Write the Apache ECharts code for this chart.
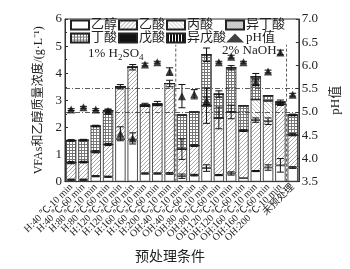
<!DOCTYPE html>
<html>
<head>
<meta charset="utf-8">
<script src="https://cdn.jsdelivr.net/npm/echarts@6/dist/echarts.min.js"></script>
<style>
  html, body { margin: 0; padding: 0; background: #fff; }
  #chart { width: 350px; height: 269px; }
</style>
</head>
<body>
<div id="chart"></div>
<script>
// 预处理条件
const categories = [
  'H:40 ℃-10 min', 'H:40 ℃-60 min', 'H:80 ℃-10 min', 'H:80 ℃-60 min',
  'H:120 ℃-10 min', 'H:120 ℃-60 min', 'H:160 ℃-10 min', 'H:160 ℃-60 min',
  'H:200 ℃-10 min', 'OH:40 ℃-10 min', 'OH:40 ℃-60 min', 'OH:80 ℃-10 min',
  'OH:80 ℃-60 min', 'OH:120 ℃-10 min', 'OH:120 ℃-60 min', 'OH:160 ℃-10 min',
  'OH:160 ℃-60 min', 'OH:200 ℃-10 min', '未预处理'
];

// 各组分浓度 (g/L), 堆叠
const ethanol     = [0.07, 0.07, 0.20, 0.18, 1.57, 1.55, 0.30, 0.30, 0.30, 0.20, 0.24, 0.50, 0.24, 0.30, 0.13, 0.39, 0.52, 0.60, 0.52];
const acetic      = [0.63, 0.65, 0.90, 1.19, 1.93, 2.67, 2.49, 2.53, 3.32, 1.00, 1.09, 2.30, 2.11, 2.27, 1.75, 1.88, 1.71, 2.26, 1.21];
const propionic   = [0, 0, 0, 0, 0, 0, 0, 0, 0, 0, 0, 0, 0, 0, 0, 0.76, 0.75, 0, 0];
const isobutyric  = [0, 0, 0, 0, 0, 0, 0, 0, 0, 0, 0, 0, 0, 0, 0, 0, 0, 0, 0];
const butyric     = [0.82, 0.81, 0.95, 1.25, 0, 0, 0, 0, 0, 1.26, 1.24, 1.88, 0.88, 1.63, 0.92, 0.84, 0.19, 0.08, 0.73];
const valeric     = [0, 0, 0, 0, 0, 0, 0.05, 0.05, 0, 0, 0, 0, 0, 0, 0, 0, 0, 0, 0];
const isovaleric  = [0, 0, 0, 0, 0, 0, 0, 0, 0, 0, 0, 0, 0, 0, 0, 0, 0, 0, 0];

// 误差 (总量顶部 / 乙醇+乙酸分界 / 乙醇)
const errTop = [0.03, 0.03, 0.03, 0.05, 0.08, 0.10, 0.05, 0.08, 0.12, 0, 0, 0.25, 0.12, 0.08, 0, 0.12, 0, 0.07, 0.03];
const errMid = [0.04, 0.03, 0.04, 0.04, 0, 0, 0, 0, 0, 0.38, 0.03, 0.65, 0.40, 0.25, 0.03, 0.08, 0.12, 0.05, 0.04];
const errEth = [0.02, 0.02, 0.02, 0.02, 0, 0, 0.02, 0.02, 0.03, 0.08, 0.03, 0.12, 0.02, 0.06, 0, 0.02, 0.10, 0.25, 0.03];

// pH值
const phValues = [5.05, 5.10, 5.05, 5.02, 4.53, 4.43, 6.02, 6.07, 5.87, 5.34, 5.38, 5.24, 6.07, 6.19, 6.07, 5.64, 5.87, 6.28, 5.37];
const phErr    = [0.02, 0.02, 0.02, 0.04, 0.15, 0.12, 0.03, 0.02, 0.08, 0.25, 0.10, 0.08, 0.02, 0.03, 0.02, 0.07, 0.03, 0.05, 0.03];
const phLines = [5.0, 5.5];

// 分组分隔线 (在类目之间)
const groupBreaks = [9, 18];

const FONT = '"Times New Roman", "Liberation Serif", "Noto Sans CJK SC", serif';

function pattern(size, draw) {
  const c = document.createElement('canvas');
  c.width = size; c.height = size;
  const g = c.getContext('2d');
  g.fillStyle = '#fff';
  g.fillRect(0, 0, size, size);
  draw(g, size);
  return { image: c, repeat: 'repeat' };
}

// diagonal hatch, drawn pixel by pixel so it stays crisp
const patAcetic = pattern(4, (g, s) => {
  g.fillStyle = '#a8a8a8';
  for (let i = 0; i < s; i++) g.fillRect(s - 1 - i, i, 1, 1);
});
const patPropionic = pattern(4, (g, s) => {
  g.fillStyle = '#c4c4c4';
  for (let i = 0; i < s; i++) g.fillRect(i, i, 1, 1);
});
const patIsobutyric = pattern(2, (g) => {
  g.fillStyle = '#999';
  g.fillRect(0, 0, 1, 1); g.fillRect(1, 1, 1, 1);
});
const patButyric = pattern(3, (g, s) => {
  g.fillStyle = '#777';
  g.fillRect(0, 0, s, 1); g.fillRect(0, 0, 1, s);
});
const patIsovaleric = pattern(3, (g, s) => {
  g.fillStyle = '#111';
  g.fillRect(0, 0, 2, s);
});

const stackDefs = [
  ['乙醇', ethanol, '#ffffff'],
  ['乙酸', acetic, patAcetic],
  ['丙酸', propionic, patPropionic],
  ['异丁酸', isobutyric, patIsobutyric],
  ['丁酸', butyric, patButyric],
  ['戊酸', valeric, '#111111'],
  ['异戊酸', isovaleric, patIsovaleric]
];

const barSeries = stackDefs.map(([name, vals, color]) => ({
  name: name,
  type: 'bar',
  stack: 'total',
  barCategoryGap: '16%',
  data: vals,
  itemStyle: { color: color, borderColor: '#222', borderWidth: 0.8 },
  emphasis: { disabled: true },
  z: 2
}));

// 误差条数据
const errData = [];
categories.forEach((c, i) => {
  const eth = ethanol[i];
  const mid = eth + acetic[i];
  const top = ethanol[i] + acetic[i] + propionic[i] + isobutyric[i] + butyric[i] + valeric[i] + isovaleric[i];
  if (errTop[i] > 0) errData.push([i, top, errTop[i]]);
  if (errMid[i] > 0) errData.push([i, mid, errMid[i]]);
  if (errEth[i] > 0) errData.push([i, eth, errEth[i]]);
});
const phErrData = phValues.map((v, i) => [i, v, phErr[i]]);

function renderErr(params, api) {
  const x = api.value(0), y = api.value(1), e = api.value(2);
  const hi = api.coord([x, y + e]);
  const lo = api.coord([x, y - e]);
  const w = 3.5;
  const st = { stroke: '#111', lineWidth: 1 };
  return {
    type: 'group',
    children: [
      { type: 'line', shape: { x1: hi[0], y1: hi[1], x2: lo[0], y2: lo[1] }, style: st },
      { type: 'line', shape: { x1: hi[0] - w, y1: hi[1], x2: hi[0] + w, y2: hi[1] }, style: st },
      { type: 'line', shape: { x1: lo[0] - w, y1: lo[1], x2: lo[0] + w, y2: lo[1] }, style: st }
    ]
  };
}

const breakSeries = groupBreaks.map(b => ({
  type: 'line',
  xAxisIndex: 1,
  yAxisIndex: 0,
  data: [[b, 0], [b, 5.05]],
  symbol: 'none',
  lineStyle: { color: '#333', width: 0.8, type: [3, 2] },
  silent: true,
  z: 3
}));

const chart = echarts.init(document.getElementById('chart'), null, { renderer: 'canvas' });

const legendCommon = {
  orient: 'vertical',
  top: 18.5,
  padding: 0,
  itemWidth: 18,
  itemHeight: 9,
  itemGap: 0,
  selectedMode: false,
  textStyle: { fontFamily: FONT, fontSize: 13, color: '#222', lineHeight: 11, padding: [0, 0, 0, -3] }
};

chart.setOption({
  animation: false,
  textStyle: { fontFamily: FONT },
  grid: { left: 65, right: 50, top: 19, bottom: 76, show: true, borderColor: '#333', borderWidth: 1 },
  legend: [
    Object.assign({}, legendCommon, { left: 70, data: [{ name: '乙醇', icon: 'rect' }, { name: '丁酸', icon: 'rect' }] }),
    Object.assign({}, legendCommon, { left: 118, data: [{ name: '乙酸', icon: 'rect' }, { name: '戊酸', icon: 'rect' }] }),
    Object.assign({}, legendCommon, { left: 166, data: [{ name: '丙酸', icon: 'rect' }, { name: '异戊酸', icon: 'rect' }] }),
    Object.assign({}, legendCommon, { left: 225, data: [{ name: '异丁酸', icon: 'rect' }, { name: 'pH值' }] })
  ],
  xAxis: [{
    type: 'category',
    data: categories,
    name: '预处理条件',
    nameLocation: 'middle',
    nameGap: 59,
    nameTextStyle: { fontFamily: FONT, fontSize: 14, color: '#222', padding: [0, 24, 0, 0] },
    axisLine: { lineStyle: { color: '#333' } },
    axisTick: { show: false },
    axisLabel: { interval: 0, rotate: 45, fontSize: 10, color: '#222', margin: 4, fontFamily: FONT }
  }, {
    type: 'value',
    min: 0,
    max: categories.length,
    show: false
  }],
  yAxis: [{
    type: 'value',
    min: 0, max: 6, interval: 1,
    name: 'VFAs和乙醇质量浓度/(g·L⁻¹)',
    nameLocation: 'middle',
    nameGap: 20,
    nameTextStyle: { fontFamily: FONT, fontSize: 12, color: '#222' },
    axisLine: { show: true, lineStyle: { color: '#333' } },
    axisTick: { show: true, inside: true, length: 3, lineStyle: { color: '#333' } },
    minorTick: { show: true, splitNumber: 2, length: 2, lineStyle: { color: '#333' } },
    axisLabel: { fontSize: 13, color: '#222', margin: 3, fontFamily: FONT },
    splitLine: { show: false }
  }, {
    type: 'value',
    position: 'right',
    min: 3.5, max: 7, interval: 0.5,
    name: 'pH值',
    nameLocation: 'middle',
    nameRotate: 90,
    nameGap: 28,
    nameTextStyle: { fontFamily: FONT, fontSize: 13, color: '#222' },
    axisLine: { show: true, lineStyle: { color: '#333' } },
    axisTick: { show: true, inside: true, length: 3, lineStyle: { color: '#333' } },
    axisLabel: { fontSize: 13, color: '#222', margin: 3, fontFamily: FONT, formatter: v => v.toFixed(1) },
    splitLine: { show: false }
  }],
  series: barSeries.concat([
    {
      type: 'custom',
      renderItem: renderErr,
      data: errData,
      silent: true,
      z: 5
    },
    {
      name: 'pH值',
      type: 'scatter',
      yAxisIndex: 1,
      data: phValues,
      symbol: 'triangle',
      symbolSize: 8,
      itemStyle: { color: '#111' },
      z: 6,
      markLine: {
        silent: true,
        symbol: 'none',
        label: { show: false },
        lineStyle: { color: '#333', width: 0.8, type: [5, 2, 1, 2] },
        data: phLines.map(v => ({ yAxis: v }))
      }
    },
    {
      type: 'custom',
      yAxisIndex: 1,
      renderItem: renderErr,
      data: phErrData,
      silent: true,
      z: 6
    }
  ]).concat(breakSeries),
  graphic: [
    {
      type: 'text',
      left: 88, top: 47,
      style: {
        text: '1% H{s|2}SO{s|4}',
        fontFamily: FONT, fontSize: 13, fill: '#222',
        rich: { s: { fontSize: 9, padding: [8, 0, 0, 0], fontFamily: FONT } }
      }
    },
    {
      type: 'text',
      left: 222, top: 44,
      style: { text: '2% NaOH', fontFamily: FONT, fontSize: 13, fill: '#222' }
    }
  ]
});
</script>
</body>
</html>
